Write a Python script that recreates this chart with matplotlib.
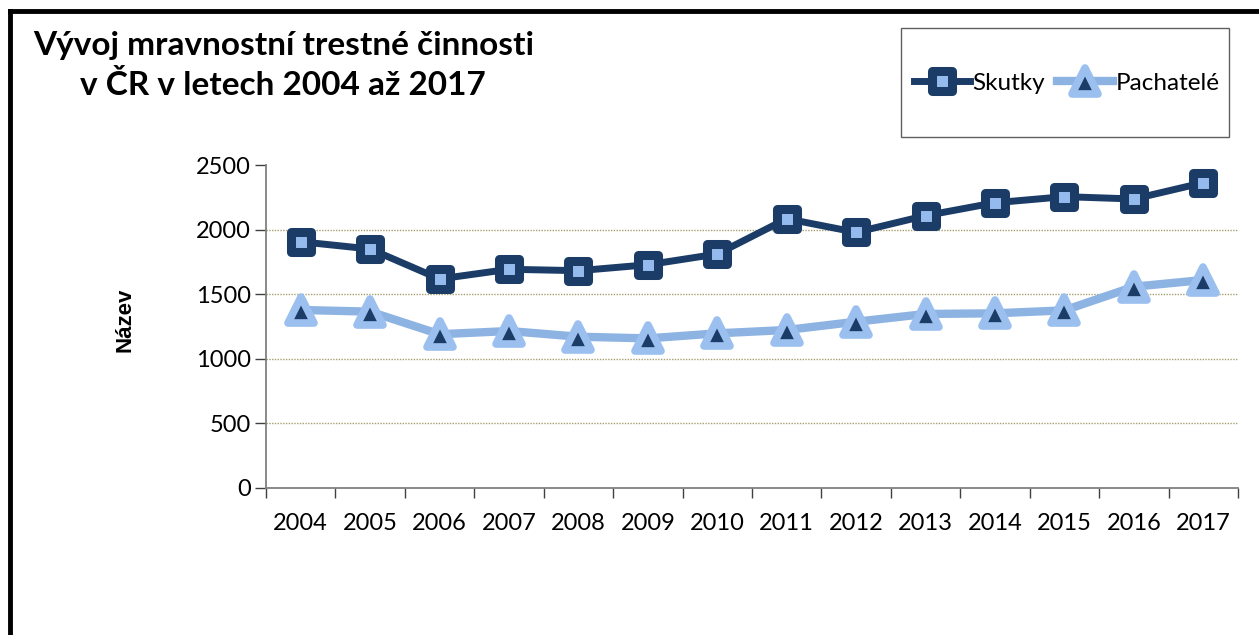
import matplotlib
matplotlib.use("Agg")
import matplotlib.pyplot as plt
from matplotlib.lines import Line2D
from matplotlib.patches import Rectangle
from matplotlib.markers import MarkerStyle

years = ["2004", "2005", "2006", "2007", "2008", "2009", "2010",
         "2011", "2012", "2013", "2014", "2015", "2016", "2017"]
skutky = [1906, 1850, 1618, 1693, 1682, 1728, 1811, 2084, 1979, 2108, 2208, 2255, 2237, 2363]
pachatele = [1378, 1365, 1190, 1215, 1171, 1158, 1197, 1223, 1287, 1347, 1352, 1375, 1558, 1610]
yticks = [0, 500, 1000, 1500, 2000, 2500]

DARK = "#1c3c68"
LIGHT_FACE = "#95bbee"
LIGHT_LINE = "#8db3e2"
LIGHT_EDGE = "#9bc0f0"

plt.rcParams["font.family"] = ["Lato", "DejaVu Sans"]

fig = plt.figure(figsize=(12.59, 6.35), dpi=100)
ax = fig.add_axes([266/1259, 1-488/635, (1238-266)/1259, (488-165)/635])

x = list(range(len(years)))
sq = MarkerStyle("s", joinstyle="round")
tri = MarkerStyle("^", joinstyle="round")

sk_style = dict(color=DARK, lw=5, marker=sq, ms=15, mew=6.5, mec=DARK, mfc=LIGHT_FACE)
pa_style = dict(color=LIGHT_LINE, lw=6, marker=tri, ms=19, mew=5.5, mec=LIGHT_EDGE, mfc=DARK)

ax.plot(x, skutky, solid_capstyle="round", zorder=4, **sk_style)
ax.plot(x, pachatele, solid_capstyle="round", zorder=3, **pa_style)

ax.set_xlim(-0.5, len(years) - 0.5)
ax.set_ylim(0, 2500)
ax.set_yticks(yticks)
ax.set_yticklabels([str(v) for v in yticks], fontsize=17)
ax.set_xticks(x)
ax.set_xticklabels(years, fontsize=17)
ax.set_xticks([i - 0.5 for i in range(len(years) + 1)], minor=True)
ax.tick_params(axis="x", which="major", length=0, pad=18)
ax.tick_params(axis="x", which="minor", length=7, color="#404040", width=1)
ax.tick_params(axis="y", length=8, color="#404040", width=1, pad=3)

for v in yticks[1:-1]:
    ax.axhline(v, color="#a89f6f", lw=1, ls=(0, (1, 1)), zorder=1)

for s in ["top", "right"]:
    ax.spines[s].set_visible(False)
for s in ["left", "bottom"]:
    ax.spines[s].set_color("#808080")
    ax.spines[s].set_linewidth(1.3)

fig.text(125/1259, 1-320/635, "Název", fontsize=16, fontweight="bold",
         family=["Liberation Sans"], rotation=90, ha="center", va="center")

fig.text(33/1259, 1-45/635, "Vývoj mravnostní trestné činnosti",
         fontsize=24, fontweight="bold", ha="left", va="center")
fig.text(80/1259, 1-85/635, "v ČR v letech 2004 až 2017",
         fontsize=24, fontweight="bold", ha="left", va="center")

# legend box
fig.patches.append(Rectangle((901/1259, 1-137/635), 328/1259, 109/635,
                             transform=fig.transFigure, fill=False, ec="#606060", lw=1))
handles = [Line2D([], [], **sk_style), Line2D([], [], **pa_style)]
fig.legend(handles, ["Skutky", "Pachatelé"], loc="center", bbox_to_anchor=(1067/1259, 1-83/635),
           ncol=2, frameon=False, fontsize=17.5, handlelength=2.3, handletextpad=0.1,
           columnspacing=0.5)

# outer frame: left and top black lines
fig.add_artist(Line2D([10/1259, 10/1259], [0, 1-11/635], transform=fig.transFigure,
                      color="black", lw=3.5, solid_capstyle="projecting"))
fig.add_artist(Line2D([10/1259, 1], [1-11/635, 1-11/635], transform=fig.transFigure,
                      color="black", lw=3.5, solid_capstyle="projecting"))

fig.savefig("out.png", dpi=100)
